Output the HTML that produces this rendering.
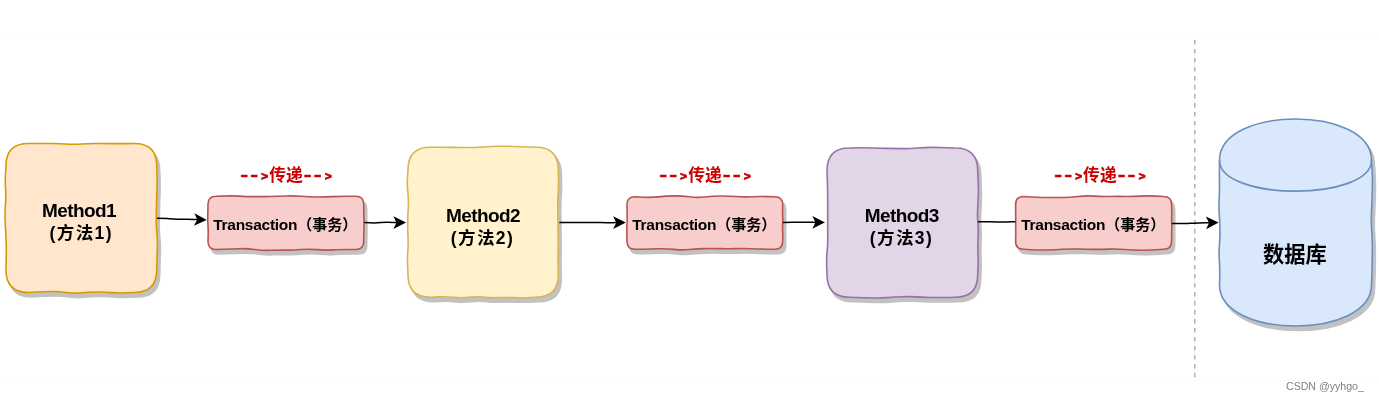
<!DOCTYPE html>
<html lang="zh-CN">
<head>
<meta charset="utf-8">
<title>Transaction propagation</title>
<style>
html,body{margin:0;padding:0;background:#fff;}
body{width:1379px;height:402px;position:relative;overflow:hidden;font-family:"Liberation Sans","Noto Sans CJK SC",sans-serif;}
svg{position:absolute;left:0;top:0;}
.txt{will-change:transform;}
.hl{position:absolute;left:0;width:1379px;height:1px;background:#fbfbfb;}
text{font-family:"Liberation Sans","Noto Sans CJK SC",sans-serif;font-weight:bold;fill:#000;}
.m1{font-size:19px;letter-spacing:-0.6px;}
.m2{font-size:17.5px;letter-spacing:1.4px;}
.tx{font-size:15px;}
.tx .la{font-size:15.5px;letter-spacing:-0.27px;}
.lb{font-size:16.8px;fill:#cc0000;}
.lb .hy{font-size:25px;font-weight:normal;stroke:#cc0000;stroke-width:0.4px;}
.lb .gt{font-size:11.5px;stroke:#cc0000;stroke-width:0.9px;}
.db{font-size:21.25px;}
.wm{position:absolute;font-size:10.6px;line-height:14px;color:#808080;white-space:nowrap;font-weight:normal;}
</style>
</head>
<body>
<div class="hl" style="top:39px"></div>
<div class="hl" style="top:380px"></div>
<svg width="1379" height="402" viewBox="0 0 1379 402">
<path d="M1194.8 40 L1194.8 379" fill="none" stroke="#b3b3b3" stroke-width="1.5" stroke-dasharray="4.5 4.5"/>
<path d="M28.50 143.50 Q43.60 143.40 51.15 143.51 Q58.70 143.63 66.25 144.03 Q73.80 144.43 81.35 143.93 Q88.90 143.42 96.45 143.47 Q104.00 143.52 111.55 143.60 Q119.10 143.69 126.65 143.60 L134.20 143.50 Q156.70 143.50 156.70 166.00 Q157.39 180.86 157.03 188.29 Q156.67 195.71 156.54 203.14 Q156.41 210.57 156.23 218.00 Q156.06 225.43 156.82 232.86 Q157.59 240.29 157.36 247.71 Q157.13 255.14 156.92 262.57 L156.70 270.00 Q156.70 292.50 134.20 292.50 Q119.10 293.40 111.55 292.61 Q104.00 291.82 96.45 291.95 Q88.90 292.07 81.35 292.79 Q73.80 293.51 66.25 292.47 Q58.70 291.44 51.15 291.46 Q43.60 291.48 36.05 291.99 L28.50 292.50 Q6.00 292.50 6.00 270.00 Q6.34 255.14 6.30 247.71 Q6.25 240.29 5.75 232.86 Q5.25 225.43 5.09 218.00 Q4.93 210.57 5.50 203.14 Q6.06 195.71 5.55 188.29 Q5.03 180.86 5.52 173.43 L6.00 166.00 Q6.00 143.50 28.50 143.50 Z" transform="translate(3 4.5)" fill="#c2c2c2" stroke="#c2c2c2" stroke-width="1.6"/>
<path d="M28.50 143.50 Q43.60 143.40 51.15 143.51 Q58.70 143.63 66.25 144.03 Q73.80 144.43 81.35 143.93 Q88.90 143.42 96.45 143.47 Q104.00 143.52 111.55 143.60 Q119.10 143.69 126.65 143.60 L134.20 143.50 Q156.70 143.50 156.70 166.00 Q157.39 180.86 157.03 188.29 Q156.67 195.71 156.54 203.14 Q156.41 210.57 156.23 218.00 Q156.06 225.43 156.82 232.86 Q157.59 240.29 157.36 247.71 Q157.13 255.14 156.92 262.57 L156.70 270.00 Q156.70 292.50 134.20 292.50 Q119.10 293.40 111.55 292.61 Q104.00 291.82 96.45 291.95 Q88.90 292.07 81.35 292.79 Q73.80 293.51 66.25 292.47 Q58.70 291.44 51.15 291.46 Q43.60 291.48 36.05 291.99 L28.50 292.50 Q6.00 292.50 6.00 270.00 Q6.34 255.14 6.30 247.71 Q6.25 240.29 5.75 232.86 Q5.25 225.43 5.09 218.00 Q4.93 210.57 5.50 203.14 Q6.06 195.71 5.55 188.29 Q5.03 180.86 5.52 173.43 L6.00 166.00 Q6.00 143.50 28.50 143.50 Z" fill="#ffe6cc" stroke="#d79b00" stroke-width="1.6" stroke-linejoin="round"/>
<path d="M430.50 147.20 Q445.54 147.14 453.06 147.35 Q460.59 147.55 468.11 147.56 Q475.63 147.57 483.15 146.99 Q490.67 146.41 498.19 146.27 Q505.71 146.12 513.24 146.52 Q520.76 146.92 528.28 147.06 L535.80 147.20 Q558.30 147.20 558.30 169.70 Q558.80 184.70 558.21 192.20 Q557.62 199.70 557.75 207.20 Q557.88 214.70 557.98 222.20 Q558.08 229.70 558.12 237.20 Q558.17 244.70 558.06 252.20 Q557.95 259.70 558.12 267.20 L558.30 274.70 Q558.30 297.20 535.80 297.20 Q520.76 297.98 513.24 297.66 Q505.71 297.33 498.19 297.64 Q490.67 297.94 483.15 297.12 Q475.63 296.31 468.11 297.24 Q460.59 298.17 453.06 297.33 Q445.54 296.50 438.02 296.85 L430.50 297.20 Q408.00 297.20 408.00 274.70 Q407.06 259.70 407.74 252.20 Q408.41 244.70 408.03 237.20 Q407.64 229.70 407.72 222.20 Q407.79 214.70 408.27 207.20 Q408.75 199.70 407.85 192.20 Q406.94 184.70 407.47 177.20 L408.00 169.70 Q408.00 147.20 430.50 147.20 Z" transform="translate(3 4.5)" fill="#c2c2c2" stroke="#c2c2c2" stroke-width="1.6"/>
<path d="M430.50 147.20 Q445.54 147.14 453.06 147.35 Q460.59 147.55 468.11 147.56 Q475.63 147.57 483.15 146.99 Q490.67 146.41 498.19 146.27 Q505.71 146.12 513.24 146.52 Q520.76 146.92 528.28 147.06 L535.80 147.20 Q558.30 147.20 558.30 169.70 Q558.80 184.70 558.21 192.20 Q557.62 199.70 557.75 207.20 Q557.88 214.70 557.98 222.20 Q558.08 229.70 558.12 237.20 Q558.17 244.70 558.06 252.20 Q557.95 259.70 558.12 267.20 L558.30 274.70 Q558.30 297.20 535.80 297.20 Q520.76 297.98 513.24 297.66 Q505.71 297.33 498.19 297.64 Q490.67 297.94 483.15 297.12 Q475.63 296.31 468.11 297.24 Q460.59 298.17 453.06 297.33 Q445.54 296.50 438.02 296.85 L430.50 297.20 Q408.00 297.20 408.00 274.70 Q407.06 259.70 407.74 252.20 Q408.41 244.70 408.03 237.20 Q407.64 229.70 407.72 222.20 Q407.79 214.70 408.27 207.20 Q408.75 199.70 407.85 192.20 Q406.94 184.70 407.47 177.20 L408.00 169.70 Q408.00 147.20 430.50 147.20 Z" fill="#fff2cc" stroke="#d6b656" stroke-width="1.6" stroke-linejoin="round"/>
<path d="M849.50 148.00 Q864.60 147.47 872.15 147.94 Q879.70 148.41 887.25 148.41 Q894.80 148.40 902.35 148.59 Q909.90 148.77 917.45 148.04 Q925.00 147.31 932.55 147.36 Q940.10 147.41 947.65 147.70 L955.20 148.00 Q977.70 148.00 977.70 170.50 Q978.48 185.39 978.39 192.83 Q978.30 200.27 977.74 207.71 Q977.19 215.16 977.85 222.60 Q978.51 230.04 978.07 237.49 Q977.63 244.93 977.98 252.37 Q978.33 259.81 978.01 267.26 L977.70 274.70 Q977.70 297.20 955.20 297.20 Q940.10 297.65 932.55 297.50 Q925.00 297.35 917.45 296.90 Q909.90 296.46 902.35 296.71 Q894.80 296.96 887.25 297.61 Q879.70 298.27 872.15 297.98 Q864.60 297.69 857.05 297.45 L849.50 297.20 Q827.00 297.20 827.00 274.70 Q826.22 259.81 827.02 252.37 Q827.82 244.93 827.75 237.49 Q827.68 230.04 827.68 222.60 Q827.67 215.16 827.70 207.71 Q827.72 200.27 827.63 192.83 Q827.54 185.39 827.27 177.94 L827.00 170.50 Q827.00 148.00 849.50 148.00 Z" transform="translate(3 4.5)" fill="#c2c2c2" stroke="#c2c2c2" stroke-width="1.6"/>
<path d="M849.50 148.00 Q864.60 147.47 872.15 147.94 Q879.70 148.41 887.25 148.41 Q894.80 148.40 902.35 148.59 Q909.90 148.77 917.45 148.04 Q925.00 147.31 932.55 147.36 Q940.10 147.41 947.65 147.70 L955.20 148.00 Q977.70 148.00 977.70 170.50 Q978.48 185.39 978.39 192.83 Q978.30 200.27 977.74 207.71 Q977.19 215.16 977.85 222.60 Q978.51 230.04 978.07 237.49 Q977.63 244.93 977.98 252.37 Q978.33 259.81 978.01 267.26 L977.70 274.70 Q977.70 297.20 955.20 297.20 Q940.10 297.65 932.55 297.50 Q925.00 297.35 917.45 296.90 Q909.90 296.46 902.35 296.71 Q894.80 296.96 887.25 297.61 Q879.70 298.27 872.15 297.98 Q864.60 297.69 857.05 297.45 L849.50 297.20 Q827.00 297.20 827.00 274.70 Q826.22 259.81 827.02 252.37 Q827.82 244.93 827.75 237.49 Q827.68 230.04 827.68 222.60 Q827.67 215.16 827.70 207.71 Q827.72 200.27 827.63 192.83 Q827.54 185.39 827.27 177.94 L827.00 170.50 Q827.00 148.00 849.50 148.00 Z" fill="#e1d5e7" stroke="#9673a6" stroke-width="1.6" stroke-linejoin="round"/>
<path d="M216.00 196.30 Q231.52 195.56 239.28 196.14 Q247.04 196.72 254.81 196.66 Q262.57 196.60 270.33 196.43 Q278.09 196.25 285.85 195.96 Q293.61 195.68 301.37 196.31 Q309.13 196.94 316.89 196.96 Q324.66 196.98 332.42 196.65 Q340.18 196.33 347.94 196.31 L355.70 196.30 Q363.70 196.30 363.70 204.30 Q363.70 211.74 363.79 215.46 Q363.89 219.18 363.98 222.90 Q364.06 226.62 363.93 230.34 Q363.79 234.06 363.75 237.78 L363.70 241.50 Q363.70 249.50 355.70 249.50 Q340.18 249.31 332.42 249.88 Q324.66 250.45 316.89 249.65 Q309.13 248.85 301.37 249.47 Q293.61 250.09 285.85 250.09 Q278.09 250.09 270.33 250.30 Q262.57 250.51 254.81 249.46 Q247.04 248.41 239.28 248.69 Q231.52 248.97 223.76 249.24 L216.00 249.50 Q208.00 249.50 208.00 241.50 Q208.28 234.06 208.18 230.34 Q208.08 226.62 207.87 222.90 Q207.66 219.18 207.77 215.46 Q207.87 211.74 207.94 208.02 L208.00 204.30 Q208.00 196.30 216.00 196.30 Z" transform="translate(3 4.5)" fill="#c2c2c2" stroke="#c2c2c2" stroke-width="1.6"/>
<path d="M216.00 196.30 Q231.52 195.56 239.28 196.14 Q247.04 196.72 254.81 196.66 Q262.57 196.60 270.33 196.43 Q278.09 196.25 285.85 195.96 Q293.61 195.68 301.37 196.31 Q309.13 196.94 316.89 196.96 Q324.66 196.98 332.42 196.65 Q340.18 196.33 347.94 196.31 L355.70 196.30 Q363.70 196.30 363.70 204.30 Q363.70 211.74 363.79 215.46 Q363.89 219.18 363.98 222.90 Q364.06 226.62 363.93 230.34 Q363.79 234.06 363.75 237.78 L363.70 241.50 Q363.70 249.50 355.70 249.50 Q340.18 249.31 332.42 249.88 Q324.66 250.45 316.89 249.65 Q309.13 248.85 301.37 249.47 Q293.61 250.09 285.85 250.09 Q278.09 250.09 270.33 250.30 Q262.57 250.51 254.81 249.46 Q247.04 248.41 239.28 248.69 Q231.52 248.97 223.76 249.24 L216.00 249.50 Q208.00 249.50 208.00 241.50 Q208.28 234.06 208.18 230.34 Q208.08 226.62 207.87 222.90 Q207.66 219.18 207.77 215.46 Q207.87 211.74 207.94 208.02 L208.00 204.30 Q208.00 196.30 216.00 196.30 Z" fill="#f8cecc" stroke="#b85450" stroke-width="1.6" stroke-linejoin="round"/>
<path d="M635.00 196.80 Q650.52 197.81 658.28 196.91 Q666.04 196.01 673.81 195.88 Q681.57 195.75 689.33 196.82 Q697.09 197.90 704.85 197.00 Q712.61 196.11 720.37 196.04 Q728.13 195.97 735.89 196.55 Q743.66 197.13 751.42 196.80 Q759.18 196.46 766.94 196.63 L774.70 196.80 Q782.70 196.80 782.70 204.80 Q782.41 212.10 782.66 215.75 Q782.90 219.40 782.63 223.05 Q782.36 226.70 782.60 230.35 Q782.83 234.00 782.77 237.65 L782.70 241.30 Q782.70 249.30 774.70 249.30 Q759.18 249.08 751.42 248.71 Q743.66 248.35 735.89 248.62 Q728.13 248.89 720.37 248.63 Q712.61 248.37 704.85 248.60 Q697.09 248.84 689.33 249.57 Q681.57 250.29 673.81 249.38 Q666.04 248.46 658.28 248.78 Q650.52 249.10 642.76 249.20 L635.00 249.30 Q627.00 249.30 627.00 241.30 Q626.86 234.00 626.82 230.35 Q626.77 226.70 627.01 223.05 Q627.26 219.40 627.16 215.75 Q627.06 212.10 627.03 208.45 L627.00 204.80 Q627.00 196.80 635.00 196.80 Z" transform="translate(3 4.5)" fill="#c2c2c2" stroke="#c2c2c2" stroke-width="1.6"/>
<path d="M635.00 196.80 Q650.52 197.81 658.28 196.91 Q666.04 196.01 673.81 195.88 Q681.57 195.75 689.33 196.82 Q697.09 197.90 704.85 197.00 Q712.61 196.11 720.37 196.04 Q728.13 195.97 735.89 196.55 Q743.66 197.13 751.42 196.80 Q759.18 196.46 766.94 196.63 L774.70 196.80 Q782.70 196.80 782.70 204.80 Q782.41 212.10 782.66 215.75 Q782.90 219.40 782.63 223.05 Q782.36 226.70 782.60 230.35 Q782.83 234.00 782.77 237.65 L782.70 241.30 Q782.70 249.30 774.70 249.30 Q759.18 249.08 751.42 248.71 Q743.66 248.35 735.89 248.62 Q728.13 248.89 720.37 248.63 Q712.61 248.37 704.85 248.60 Q697.09 248.84 689.33 249.57 Q681.57 250.29 673.81 249.38 Q666.04 248.46 658.28 248.78 Q650.52 249.10 642.76 249.20 L635.00 249.30 Q627.00 249.30 627.00 241.30 Q626.86 234.00 626.82 230.35 Q626.77 226.70 627.01 223.05 Q627.26 219.40 627.16 215.75 Q627.06 212.10 627.03 208.45 L627.00 204.80 Q627.00 196.80 635.00 196.80 Z" fill="#f8cecc" stroke="#b85450" stroke-width="1.6" stroke-linejoin="round"/>
<path d="M1023.60 196.50 Q1039.16 197.43 1046.93 197.46 Q1054.71 197.49 1062.49 197.43 Q1070.27 197.36 1078.04 196.47 Q1085.82 195.58 1093.60 196.14 Q1101.38 196.70 1109.16 196.52 Q1116.93 196.33 1124.71 196.45 Q1132.49 196.57 1140.27 196.13 Q1148.04 195.69 1155.82 196.09 L1163.60 196.50 Q1171.60 196.50 1171.60 204.50 Q1171.83 211.86 1171.73 215.54 Q1171.64 219.22 1171.72 222.90 Q1171.80 226.58 1171.72 230.26 Q1171.63 233.94 1171.62 237.62 L1171.60 241.30 Q1171.60 249.30 1163.60 249.30 Q1148.04 250.35 1140.27 250.28 Q1132.49 250.21 1124.71 249.52 Q1116.93 248.84 1109.16 249.16 Q1101.38 249.47 1093.60 249.37 Q1085.82 249.27 1078.04 249.03 Q1070.27 248.78 1062.49 249.20 Q1054.71 249.61 1046.93 249.94 Q1039.16 250.27 1031.38 249.79 L1023.60 249.30 Q1015.60 249.30 1015.60 241.30 Q1015.81 233.94 1015.74 230.26 Q1015.67 226.58 1015.69 222.90 Q1015.72 219.22 1015.70 215.54 Q1015.69 211.86 1015.64 208.18 L1015.60 204.50 Q1015.60 196.50 1023.60 196.50 Z" transform="translate(3 4.5)" fill="#c2c2c2" stroke="#c2c2c2" stroke-width="1.6"/>
<path d="M1023.60 196.50 Q1039.16 197.43 1046.93 197.46 Q1054.71 197.49 1062.49 197.43 Q1070.27 197.36 1078.04 196.47 Q1085.82 195.58 1093.60 196.14 Q1101.38 196.70 1109.16 196.52 Q1116.93 196.33 1124.71 196.45 Q1132.49 196.57 1140.27 196.13 Q1148.04 195.69 1155.82 196.09 L1163.60 196.50 Q1171.60 196.50 1171.60 204.50 Q1171.83 211.86 1171.73 215.54 Q1171.64 219.22 1171.72 222.90 Q1171.80 226.58 1171.72 230.26 Q1171.63 233.94 1171.62 237.62 L1171.60 241.30 Q1171.60 249.30 1163.60 249.30 Q1148.04 250.35 1140.27 250.28 Q1132.49 250.21 1124.71 249.52 Q1116.93 248.84 1109.16 249.16 Q1101.38 249.47 1093.60 249.37 Q1085.82 249.27 1078.04 249.03 Q1070.27 248.78 1062.49 249.20 Q1054.71 249.61 1046.93 249.94 Q1039.16 250.27 1031.38 249.79 L1023.60 249.30 Q1015.60 249.30 1015.60 241.30 Q1015.81 233.94 1015.74 230.26 Q1015.67 226.58 1015.69 222.90 Q1015.72 219.22 1015.70 215.54 Q1015.69 211.86 1015.64 208.18 L1015.60 204.50 Q1015.60 196.50 1023.60 196.50 Z" fill="#f8cecc" stroke="#b85450" stroke-width="1.6" stroke-linejoin="round"/>
<path d="M1219.50 160.20 C1219.50 105.27 1371.50 105.27 1371.50 160.20 Q1372.57 175.77 1372.46 183.56 Q1372.35 191.35 1372.04 199.14 Q1371.74 206.93 1371.42 214.71 Q1371.10 222.50 1371.70 230.29 Q1372.29 238.07 1372.32 245.86 Q1372.35 253.65 1372.22 261.44 Q1372.09 269.23 1371.80 277.01 L1371.50 284.80 C1371.50 339.73 1219.50 339.73 1219.50 284.80 Q1220.07 269.23 1219.40 261.44 Q1218.72 253.65 1219.38 245.86 Q1220.03 238.07 1219.94 230.29 Q1219.86 222.50 1219.28 214.71 Q1218.70 206.93 1219.14 199.14 Q1219.58 191.35 1219.48 183.56 Q1219.39 175.77 1219.44 167.99 L1219.50 160.20 Z" transform="translate(3 4.5)" fill="#c2c2c2" stroke="#c2c2c2" stroke-width="1.6"/>
<path d="M1219.50 160.20 C1219.50 105.27 1371.50 105.27 1371.50 160.20 Q1372.57 175.77 1372.46 183.56 Q1372.35 191.35 1372.04 199.14 Q1371.74 206.93 1371.42 214.71 Q1371.10 222.50 1371.70 230.29 Q1372.29 238.07 1372.32 245.86 Q1372.35 253.65 1372.22 261.44 Q1372.09 269.23 1371.80 277.01 L1371.50 284.80 C1371.50 339.73 1219.50 339.73 1219.50 284.80 Q1220.07 269.23 1219.40 261.44 Q1218.72 253.65 1219.38 245.86 Q1220.03 238.07 1219.94 230.29 Q1219.86 222.50 1219.28 214.71 Q1218.70 206.93 1219.14 199.14 Q1219.58 191.35 1219.48 183.56 Q1219.39 175.77 1219.44 167.99 L1219.50 160.20 Z" fill="#dae8fc" stroke="#6c8ebf" stroke-width="1.6" stroke-linejoin="round"/>
<path d="M1219.50 160.20 C1219.50 201.40 1371.50 201.40 1371.50 160.20" fill="none" stroke="#6c8ebf" stroke-width="1.6"/>
<path d="M157.00 218.30 Q165.23 218.30 169.34 218.69 Q173.44 219.08 177.56 219.18 Q181.67 219.29 185.79 219.23 Q189.91 219.18 194.02 219.40 L198.13 219.62 " fill="none" stroke="#000" stroke-width="1.5"/>
<path d="M205.12 219.85 L195.68 224.20 L198.13 219.62 L195.98 214.90 Z" fill="#000" stroke="#000" stroke-width="1.5" stroke-linejoin="miter"/>
<path d="M364.30 222.60 Q370.90 222.93 374.21 222.93 Q377.51 222.93 380.81 222.60 Q384.11 222.27 387.42 222.29 Q390.72 222.30 394.02 222.45 L397.32 222.60 " fill="none" stroke="#000" stroke-width="1.5"/>
<path d="M404.32 222.60 L395.02 227.25 L397.32 222.60 L395.02 217.95 Z" fill="#000" stroke="#000" stroke-width="1.5" stroke-linejoin="miter"/>
<path d="M559.30 222.60 Q570.86 222.41 576.65 222.52 Q582.43 222.63 588.21 222.57 Q593.99 222.50 599.78 222.59 Q605.56 222.68 611.34 222.64 L617.12 222.60 " fill="none" stroke="#000" stroke-width="1.5"/>
<path d="M624.12 222.60 L614.82 227.25 L617.12 222.60 L614.82 217.95 Z" fill="#000" stroke="#000" stroke-width="1.5" stroke-linejoin="miter"/>
<path d="M783.00 222.40 Q789.66 222.21 793.00 222.16 Q796.33 222.11 799.66 222.22 Q802.99 222.32 806.33 222.24 Q809.66 222.15 812.99 222.27 L816.32 222.40 " fill="none" stroke="#000" stroke-width="1.5"/>
<path d="M823.32 222.40 L814.02 227.05 L816.32 222.40 L814.02 217.75 Z" fill="#000" stroke="#000" stroke-width="1.5" stroke-linejoin="miter"/>
<path d="M978.00 221.70 Q985.48 221.79 989.22 221.83 Q992.96 221.88 996.70 221.90 Q1000.44 221.92 1004.18 221.97 Q1007.92 222.02 1011.66 221.86 L1015.40 221.70 " fill="none" stroke="#000" stroke-width="1.5"/>
<path d="M1171.80 223.60 Q1179.43 223.65 1183.24 223.58 Q1187.06 223.51 1190.86 223.31 Q1194.67 223.10 1198.49 222.94 Q1202.30 222.77 1206.11 222.78 L1209.92 222.79 " fill="none" stroke="#000" stroke-width="1.5"/>
<path d="M1216.92 222.64 L1207.72 227.48 L1209.92 222.79 L1207.53 218.19 Z" fill="#000" stroke="#000" stroke-width="1.5" stroke-linejoin="miter"/>
</svg>
<svg class="txt" width="1379" height="402" viewBox="0 0 1379 402">
<text x="79" y="217.2" class="m1" text-anchor="middle">Method1</text>
<text x="81.2" y="239.3" class="m2" text-anchor="middle">(方法1)</text>
<text x="483" y="221.6" class="m1" text-anchor="middle">Method2</text>
<text x="482.5" y="243.5" class="m2" text-anchor="middle">(方法2)</text>
<text x="901.7" y="221.6" class="m1" text-anchor="middle">Method3</text>
<text x="901.5" y="243.5" class="m2" text-anchor="middle">(方法3)</text>
<text x="213.2" y="230" class="tx" text-anchor="start"><tspan class="la">Transaction</tspan>（事务）</text>
<text x="632.2" y="230" class="tx" text-anchor="start"><tspan class="la">Transaction</tspan>（事务）</text>
<text x="1021.2" y="230" class="tx" text-anchor="start"><tspan class="la">Transaction</tspan>（事务）</text>
<text class="lb"><tspan class="hy" y="182.66" x="240.00 250.10">--</tspan><tspan class="gt" y="179.9" x="261.30">&gt;</tspan><tspan class="cj" y="181.3" x="269.20">传递</tspan><tspan class="hy" y="182.66" x="303.60 313.40">--</tspan><tspan class="gt" y="179.9" x="324.90">&gt;</tspan></text>
<text class="lb"><tspan class="hy" y="182.66" x="659.00 669.10">--</tspan><tspan class="gt" y="179.9" x="680.30">&gt;</tspan><tspan class="cj" y="181.3" x="688.20">传递</tspan><tspan class="hy" y="182.66" x="722.60 732.40">--</tspan><tspan class="gt" y="179.9" x="743.90">&gt;</tspan></text>
<text class="lb"><tspan class="hy" y="182.66" x="1053.90 1064.00">--</tspan><tspan class="gt" y="179.9" x="1075.20">&gt;</tspan><tspan class="cj" y="181.3" x="1083.10">传递</tspan><tspan class="hy" y="182.66" x="1117.50 1127.30">--</tspan><tspan class="gt" y="179.9" x="1138.80">&gt;</tspan></text>
<text x="1295" y="262.1" class="db" text-anchor="middle">数据库</text>
</svg>
<div class="wm" style="left:1286px;top:379px">CSDN @yyhgo_</div>
</body>
</html>
